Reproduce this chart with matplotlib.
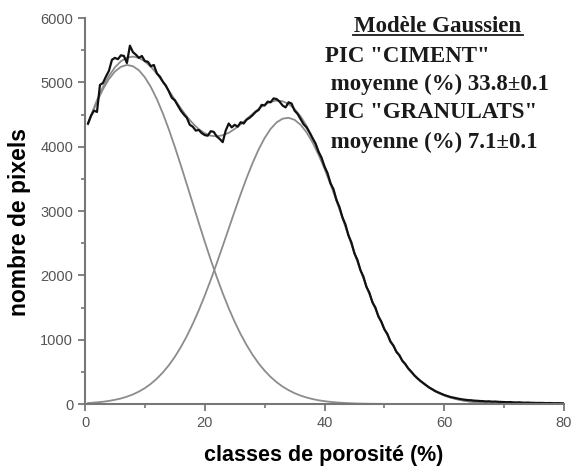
import numpy as np
import matplotlib
matplotlib.use("Agg")
import matplotlib.pyplot as plt
from matplotlib.lines import Line2D

# measured histogram (porosity class -> pixel count), step 0.5 %
hist_x = np.arange(0.5, 80.5, 0.5)
hist_y = [4360, 4480, 4560, 4540, 4960, 4990, 5090, 5180, 5350, 5380,
          5360, 5420, 5410, 5300, 5570, 5470, 5430, 5380, 5410, 5330,
          5320, 5250, 5270, 5140, 5090, 5010, 4950, 4860, 4760, 4720,
          4640, 4560, 4500, 4450, 4340, 4310, 4250, 4260, 4210, 4180,
          4170, 4240, 4230, 4160, 4120, 4070, 4250, 4360, 4300, 4340,
          4310, 4380, 4360, 4420, 4450, 4490, 4540, 4570, 4650, 4640,
          4700, 4690, 4750, 4740, 4700, 4640, 4610, 4690, 4670, 4560,
          4510, 4430, 4350, 4300, 4220, 4130, 4050, 3920, 3830, 3690,
          3590, 3430, 3340, 3170, 3060, 2900, 2790, 2620, 2510, 2340,
          2240, 2080, 1980, 1820, 1730, 1580, 1500, 1360, 1280, 1160,
          1090, 970, 910, 810, 760, 670, 620, 550, 500, 445,
          400, 360, 325, 290, 255, 230, 200, 180, 160, 140,
          125, 110, 100, 90, 80, 72, 66, 60, 58, 52,
          50, 46, 44, 40, 42, 36, 38, 34, 32, 30,
          28, 30, 26, 24, 26, 22, 20, 22, 18, 18,
          16, 17, 15, 14, 15, 13, 12, 13, 11, 10]

# gaussian components, at 0.5 then every 1 %
comp_x = [0.5] + list(range(1, 81))
granulats = [4346, 4470, 4697, 4893, 5051, 5168, 5242, 5270, 5251, 5187,
             5078, 4927, 4739, 4518, 4269, 3998, 3712, 3416, 3116, 2816,
             2524, 2241, 1974, 1722, 1489, 1277, 1085, 914, 763, 631,
             518, 421, 339, 271, 215, 168, 131, 101, 77, 58,
             44, 33, 24, 18, 13, 9, 6, 4, 3, 2,
             1] + [0] * 30
ciment = [16, 18, 26, 35, 48, 65, 86, 114, 149, 193,
          247, 314, 394, 490, 602, 733, 884, 1054, 1246, 1456,
          1685, 1929, 2187, 2455, 2726, 2998, 3263, 3515, 3748, 3957,
          4134, 4276, 4377, 4435, 4449, 4417, 4341, 4223, 4067, 3876,
          3657, 3416, 3158, 2889, 2617, 2346, 2083, 1829, 1590, 1369,
          1166, 984, 821, 679, 555, 449, 360, 286, 224, 174,
          134, 102, 77, 57, 42, 31, 22, 16, 11, 8,
          6, 4, 3, 2, 1, 1, 0, 0, 0, 0, 0]

legend_title = "Modèle Gaussien"
legend_lines = ['PIC "CIMENT"', ' moyenne (%) 33.8±0.1',
                'PIC "GRANULATS"', ' moyenne (%) 7.1±0.1']

W, H = 573, 468
fig = plt.figure(figsize=(W / 100, H / 100), dpi=100)
ax = fig.add_axes([85 / W, 1 - 404 / H, 479 / W, 386 / H])

grey = "#8c8c8c"
fit = np.array(granulats) + np.array(ciment)
ax.plot(comp_x, granulats, color=grey, lw=1.3)
ax.plot(comp_x, ciment, color=grey, lw=1.3)
ax.plot(comp_x, fit, color=grey, lw=1.3)
ax.plot(hist_x, hist_y, color="#111111", lw=1.6)

ax.set_xlim(0, 80)
ax.set_ylim(0, 6000)
ax.set_xticks([0, 20, 40, 60, 80])
ax.set_xticks([10, 30, 50, 70], minor=True)
ax.set_yticks(range(0, 6001, 1000))
ax.set_yticks(range(500, 6000, 1000), minor=True)

for side in ["top", "right"]:
    ax.spines[side].set_visible(False)
for side in ["left", "bottom"]:
    ax.spines[side].set_color("#777777")
    ax.spines[side].set_linewidth(1.5)
ax.tick_params(which="major", direction="out", length=5, width=1.3,
               color="#777777", labelcolor="#555555", labelsize=10.5)
ax.tick_params(which="minor", direction="out", length=3, width=1.2,
               color="#777777")
for lab in ax.get_xticklabels() + ax.get_yticklabels():
    lab.set_family("Liberation Sans")

fig.text(324 / W, 1 - 455 / H, "classes de porosité (%)", ha="center",
         va="center", fontsize=15.5, fontweight="bold", family="Liberation Sans")
fig.text(20 / W, 1 - 222 / H, "nombre de pixels", ha="center", va="center",
         rotation=90, fontsize=16.5, fontweight="bold", family="Liberation Sans")

serif = dict(family="Liberation Serif", fontweight="bold", fontsize=16.5,
             color="#1a1a1a", va="baseline")
fig.text(438 / W, 1 - 32 / H, legend_title, ha="center", **serif)
fig.add_artist(Line2D([353 / W, 523 / W], [1 - 35 / H, 1 - 35 / H],
                      color="#1a1a1a", lw=1.3, transform=fig.transFigure))
baselines = [62, 90, 118, 148]
for txt, yb in zip(legend_lines, baselines):
    fig.text(325 / W, 1 - yb / H, txt, ha="left", **serif)

fig.savefig("out.png", dpi=100)
